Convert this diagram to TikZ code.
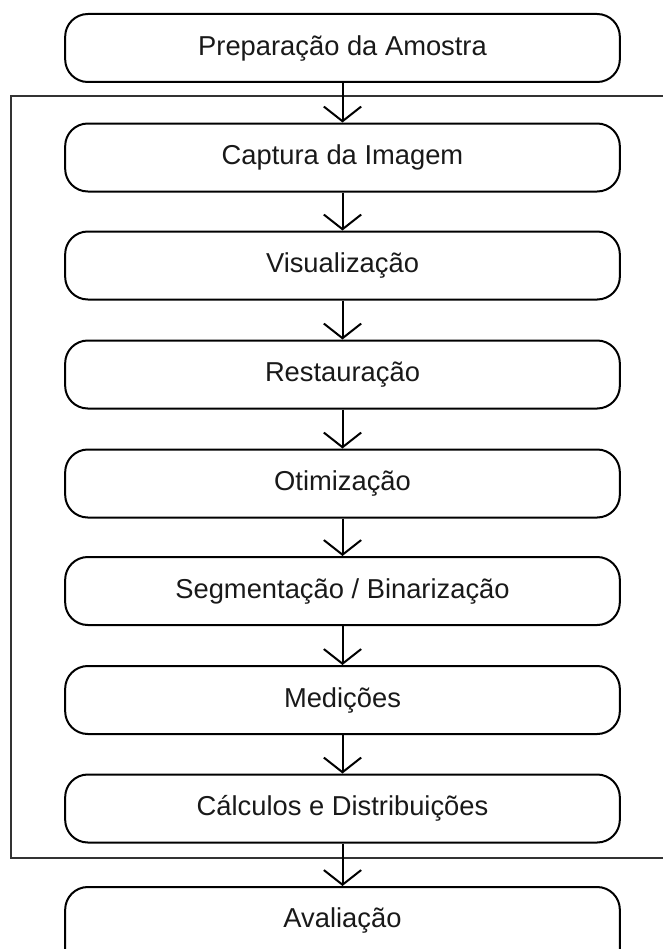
\documentclass[tikz,border=0pt]{standalone}
\usepackage{fontspec}
\setmainfont{Liberation Sans}
\usetikzlibrary{arrows.meta}
\begin{document}
\begin{tikzpicture}[x=0.75pt,y=-0.75pt,
  stepfont/.style={font=\fontsize{20.5}{24}\selectfont, text=black!90},
  stepbox/.style={draw=black, line width=1.5pt, rounded corners=17pt,
    minimum width=416pt, minimum height=51pt, inner sep=0pt, stepfont},
  flow/.style={line width=1.5pt, -{Straight Barb[length=11pt,width=28pt,line width=1.5pt]}},
  frame/.style={draw=black!80, line width=1.1pt}]
\useasboundingbox (0,0) rectangle (662,949);
\node[stepbox] (a) at (342.5,48) {Preparação da Amostra};
\node[stepbox] (b) at (342.5,157.5) {Captura da Imagem};
\node[stepbox] (c) at (342.5,265.5) {Visualização};
\node[stepbox] (d) at (342.5,374.5) {Restauração};
\node[stepbox] (e) at (342.5,483.5) {Otimização};
\node[stepbox] (f) at (342.5,591) {Segmentação / Binarização};
\node[stepbox] (g) at (342.5,700) {Medições};
\node[stepbox] (h) at (342.5,808.5) {Cálculos e Distribuições};
\node[stepbox, anchor=north, minimum height=80pt,
  label={[stepfont, anchor=center, yshift=-25.5pt]north:Avaliação}] (i) at (342.5,886) {};
\draw[frame] (670,96) -- (11,96) -- (11,858) -- (670,858);
\foreach \u/\v in {a/b,b/c,c/d,d/e,e/f,f/g,g/h,h/i}
  \draw[flow] (\u.south) -- (\v.north);
\end{tikzpicture}
\end{document}
